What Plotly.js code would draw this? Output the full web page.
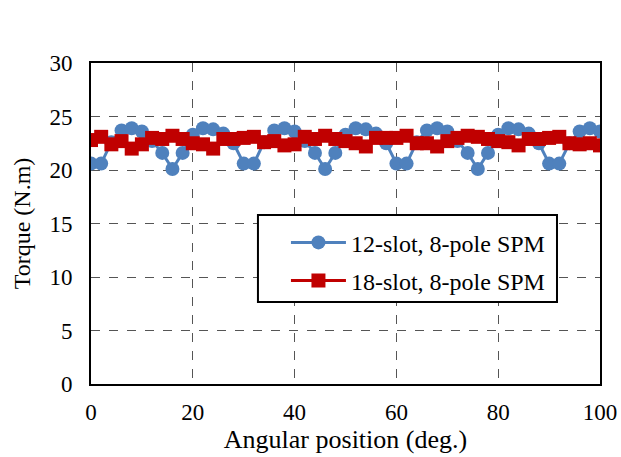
<!DOCTYPE html>
<html>
<head>
<meta charset="utf-8">
<script src="https://cdn.plot.ly/plotly-3.0.1.min.js"></script>
<style>html,body{margin:0;padding:0;background:#fff;}#chart{width:621px;height:457px;}</style>
</head>
<body>
<div id="chart"></div>
<script>
const angle = [0,2,4,6,8,10,12,14,16,18,20,22,24,26,28,30,32,34,36,38,40,42,44,46,48,50,52,54,56,58,60,62,64,66,68,70,72,74,76,78,80,82,84,86,88,90,92,94,96,98,100];
const slot12 = [20.6,20.6,22.6,23.7,23.9,23.6,22.7,21.6,20.1,21.6,23.3,23.9,23.8,23.4,22.5,
                20.6,20.6,22.6,23.7,23.9,23.6,22.7,21.6,20.1,21.6,23.3,23.9,23.8,23.4,22.5,
                20.6,20.6,22.6,23.7,23.9,23.6,22.7,21.6,20.1,21.6,23.3,23.9,23.8,23.4,22.5,
                20.6,20.6,22.5,23.6,23.9,23.6];
const slot18 = [22.8,23.1,22.4,22.7,22.0,22.4,23.0,22.9,23.2,22.9,22.5,22.4,22.0,22.9,22.9,
                23.0,23.1,22.6,22.7,22.3,22.4,23.1,22.9,23.2,22.9,22.7,22.5,22.2,23.0,23.0,
                23.0,23.2,22.5,22.5,22.2,22.7,23.0,23.2,23.1,22.9,22.7,22.6,22.3,22.9,22.9,
                23.0,23.1,22.5,22.4,22.5,22.3];
const seriesNames = ["12-slot, 8-pole SPM", "18-slot, 8-pole SPM"];
const xTitle = "Angular position (deg.)";
const yTitle = "Torque (N.m)";

const font = "Liberation Serif";
const traces = [
  {x: angle, y: slot12, name: seriesNames[0], type: "scatter", mode: "lines+markers",
   legendgroup: "a",
   line: {color: "#4F81BD", width: 3}, marker: {symbol: "circle", size: 14, color: "#4F81BD"}},
  {x: angle, y: slot18, name: seriesNames[1], type: "scatter", mode: "lines+markers",
   legendgroup: "b",
   line: {color: "#C00000", width: 3}, marker: {symbol: "square", size: 14, color: "#C00000"}}
];
const axisCommon = {
  showline: true, mirror: true, linecolor: "#000", linewidth: 2,
  showgrid: true, gridcolor: "#555", griddash: "dash", gridwidth: 1,
  zeroline: false, ticks: "", tickfont: {family: font, size: 23, color: "#000"}
};
const layout = {
  width: 621, height: 457,
  margin: {l: 91, r: 21, t: 63, b: 73},
  paper_bgcolor: "#fff", plot_bgcolor: "#fff",
  font: {family: font, color: "#000"},
  showlegend: true,
  xaxis: Object.assign({}, axisCommon, {range: [0, 100], dtick: 20, tick0: 0, ticklabelstandoff: 6,
    title: {text: xTitle, font: {family: font, size: 26, color: "#000"}, standoff: 0}}),
  yaxis: Object.assign({}, axisCommon, {range: [0, 30], dtick: 5, tick0: 0, ticklabelstandoff: 12,
    title: {text: yTitle, font: {family: font, size: 24, color: "#000"}, standoff: 12}}),
  shapes: [{type: "rect", xref: "paper", yref: "paper", x0: 0.328, x1: 0.9155, y0: 0.2555, y1: 0.5265,
    layer: "above", fillcolor: "#fff", line: {color: "#000", width: 2}}],
  legend: {x: 0.383, y: 0.51, xanchor: "left", yanchor: "top",
    bgcolor: "rgba(0,0,0,0)", borderwidth: 0,
    font: {family: font, size: 24, color: "#000"}, tracegroupgap: 4,
    itemwidth: 55}
};
Plotly.newPlot("chart", traces, layout, {displayModeBar: false, staticPlot: true});
</script>
</body>
</html>
